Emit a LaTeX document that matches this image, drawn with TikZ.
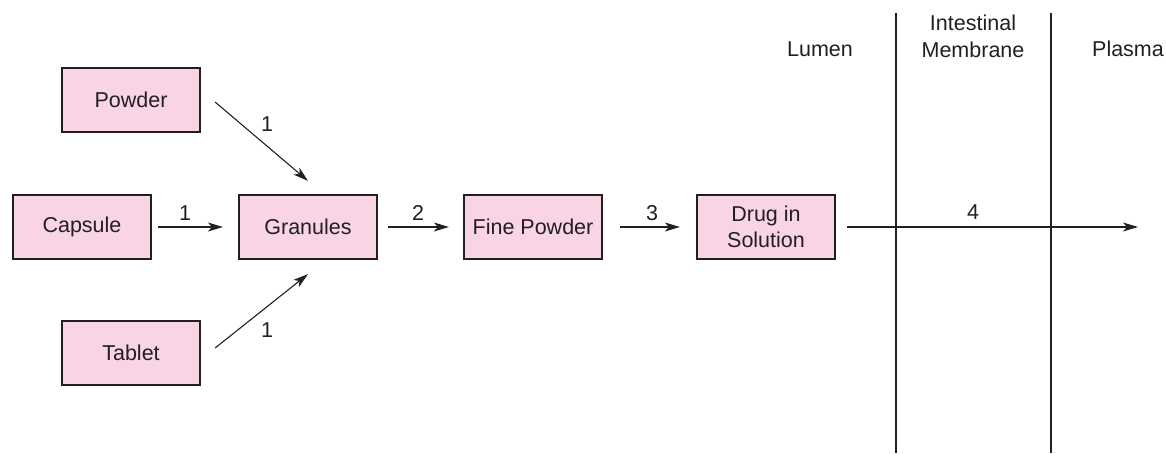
\documentclass[tikz,border=0pt]{standalone}
\usepackage{fontspec}
\setmainfont{Liberation Sans}
\usetikzlibrary{arrows.meta}
\definecolor{boxpink}{RGB}{249,212,228}
\definecolor{ink}{RGB}{35,31,32}
\begin{document}
\begin{tikzpicture}[x=1pt,y=-1pt,
  font=\fontsize{21.5}{27}\selectfont,
  box/.style={draw=ink,line width=2.2pt,fill=boxpink,minimum width=138pt,minimum height=64pt,inner sep=0pt,align=center,text=ink},
  arr/.style={draw=ink,line width=1.1pt,-{Stealth[length=15pt,width=9pt,inset=4pt]}},
  lab/.style={text=ink,inner sep=0pt},
  wall/.style={draw=ink,line width=1.1pt}]
\useasboundingbox (0,0) rectangle (1166,453);
\node[box] (powder) at (131,100) {Powder};
\node[box] (capsule) at (82,227) {Capsule};
\node[box] (gran) at (308,227) {Granules};
\node[box] (tablet) at (131,353) {Tablet};
\node[box] (fine) at (533,227) {Fine Powder};
\node[box] (drug) at (766,227) {Drug in\\[-1pt]Solution};
\coordinate (out) at (1138,227);
\coordinate (w1t) at (896,13);
\coordinate (w1b) at (896,453);
\coordinate (w2t) at (1051,13);
\coordinate (w2b) at (1051,453);
\draw[wall] (w1t) -- (w1b);
\draw[wall] (w2t) -- (w2b);
\draw[arr] ([xshift=14pt,yshift=-2pt]powder.east) -- ([yshift=13pt]gran.north);
\draw[arr] ([xshift=14pt,yshift=5pt]tablet.east) -- ([yshift=-14pt]gran.south);
\draw[arr,shorten <=6pt,shorten >=15pt] (capsule) -- (gran);
\draw[arr,shorten <=10pt,shorten >=14pt] (gran) -- (fine);
\draw[arr,shorten <=17pt,shorten >=16pt] (fine) -- (drug);
\draw[arr,shorten <=11pt] (drug.east) -- (out);
\node[lab] (l1a) at (267,124) {1};
\node[lab] (l1b) at (185,213) {1};
\node[lab] (l1c) at (267,330) {1};
\node[lab] (l2) at (418,213) {2};
\node[lab] (l3) at (652,213) {3};
\node[lab] (l4) at (973,212) {4};
\node[lab] (lumen) at (820,49) {Lumen};
\node[lab,align=center] (memb) at (973,36) {Intestinal\\Membrane};
\node[lab] (plasma) at (1128,49) {Plasma};
\end{tikzpicture}
\end{document}
